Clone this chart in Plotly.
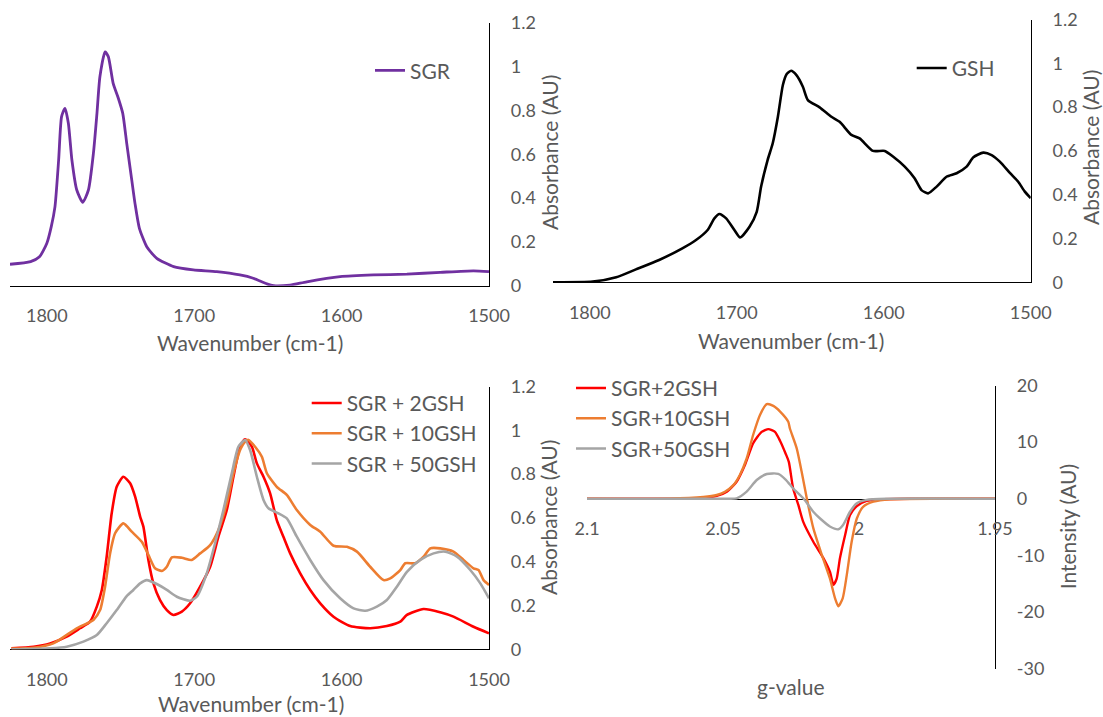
import plotly.graph_objects as go

# ---------------- data ----------------
sgr_wn = [1825, 1811, 1805, 1800, 1797, 1794.5, 1792, 1790, 1787.7, 1785.4, 1783, 1779.7, 1775.6,
          1771.8, 1768.4, 1766, 1764, 1760.5, 1758.3, 1755, 1751.5, 1748.5, 1745.8, 1742.4, 1740.2,
          1737.2, 1732.2, 1725.4, 1714, 1700.6, 1684.7, 1669, 1660, 1650.7, 1646, 1635, 1623.6,
          1601, 1578.4, 1555.7, 1533, 1510.5, 1500]
sgr_abs = [0.098, 0.11, 0.132, 0.194, 0.27, 0.36, 0.574, 0.772, 0.81, 0.742, 0.574, 0.437, 0.381,
           0.437, 0.605, 0.787, 0.954, 1.068, 1.046, 0.924, 0.856, 0.787, 0.65, 0.483, 0.376,
           0.262, 0.178, 0.125, 0.087, 0.072, 0.064, 0.049, 0.034, 0.008, 0.0, 0.003, 0.018,
           0.041, 0.049, 0.053, 0.061, 0.068, 0.064]

gsh_wn = [1825, 1798, 1782, 1768.6, 1752.8, 1737, 1727.7, 1719.8, 1715.2, 1711.8, 1707.2, 1701.6,
          1697.7, 1691.3, 1686.4, 1683.4, 1679, 1675.5, 1672, 1668.6, 1666, 1663, 1659.5, 1655,
          1651.6, 1643.6, 1635.6, 1630, 1622, 1616.4, 1607.3, 1599.3, 1593.7, 1585.7, 1579, 1574.3,
          1569.8, 1564, 1557.3, 1550.4, 1543.6, 1539, 1532.3, 1526.6, 1521, 1514, 1508.5, 1504, 1500]
gsh_abs = [0, 0.003, 0.023, 0.059, 0.102, 0.155, 0.193, 0.239, 0.292, 0.312, 0.292, 0.239,
           0.205, 0.254, 0.322, 0.437, 0.558, 0.635, 0.756, 0.901, 0.951, 0.966, 0.947, 0.893,
           0.832, 0.799, 0.756, 0.733, 0.673, 0.657, 0.6, 0.6, 0.574, 0.528, 0.475, 0.421,
           0.406, 0.437, 0.482, 0.498, 0.528, 0.571, 0.592, 0.581, 0.551, 0.498, 0.459, 0.414, 0.384]

mix2_wn = [1824, 1809, 1797.8, 1786.5, 1777.5, 1770.7, 1766.1, 1762.7, 1759.4, 1756, 1752.6, 1748.1,
           1743.5, 1740.1, 1736.7, 1734.5, 1731.1, 1727.7, 1723.2, 1718.6, 1714.1, 1708.4, 1702.8,
           1696, 1689.2, 1683.6, 1677.9, 1673.4, 1668.9, 1665.5, 1660.9, 1657.5, 1653, 1648.5, 1644,
           1639.5, 1634.9, 1628.1, 1621.3, 1614.5, 1605.5, 1594.2, 1580.6, 1569.3, 1560.2, 1555.7,
           1544.4, 1533.1, 1524.1, 1510.5, 1500]
mix2_abs = [0.005, 0.012, 0.027, 0.058, 0.096, 0.126, 0.195, 0.271, 0.423, 0.621, 0.742, 0.788,
            0.758, 0.697, 0.606, 0.56, 0.408, 0.301, 0.225, 0.179, 0.157, 0.172, 0.21,
            0.286, 0.377, 0.514, 0.636, 0.788, 0.925, 0.959, 0.925, 0.849, 0.788, 0.712, 0.59,
            0.514, 0.438, 0.347, 0.271, 0.21, 0.149, 0.106, 0.096, 0.106, 0.126, 0.157,
            0.184, 0.169, 0.149, 0.103, 0.073]

mix10_wn = [1824, 1809, 1795.6, 1779.7, 1768.4, 1763.9, 1760.5, 1757.1, 1753.7, 1748.1, 1742.4,
            1735.6, 1731.1, 1726.6, 1722, 1718.6, 1715.2, 1708.4, 1701.7, 1696, 1689.2, 1683.6,
            1677.9, 1673.4, 1668.9, 1665.5, 1663.2, 1658.7, 1654.1, 1650.7, 1644, 1637.2, 1630.4,
            1621.3, 1614.5, 1605.5, 1596.4, 1589.6, 1580.6, 1571.6, 1567, 1560.2, 1556.8, 1550,
            1544.4, 1539.8, 1533.1, 1524.1, 1517.3, 1510.5, 1507.1, 1503.7, 1500]
mix10_abs = [0.003, 0.007, 0.027, 0.096, 0.134, 0.179, 0.286, 0.438, 0.53, 0.575, 0.537,
             0.491, 0.431, 0.37, 0.358, 0.377, 0.42, 0.418, 0.408, 0.438, 0.476, 0.545,
             0.667, 0.804, 0.91, 0.948, 0.956, 0.925, 0.879, 0.804, 0.742, 0.705, 0.636,
             0.568, 0.537, 0.473, 0.468, 0.446, 0.377, 0.316, 0.324, 0.362, 0.393, 0.393,
             0.423, 0.461, 0.461, 0.446, 0.408, 0.37, 0.362, 0.316, 0.294]

mix50_wn = [1824, 1797.8, 1786.5, 1775.2, 1766.1, 1759.4, 1752.6, 1745.8, 1741.3, 1736.7, 1732.2,
            1725.4, 1718.6, 1711.8, 1702.8, 1698.3, 1691.5, 1684.7, 1680.2, 1674.5, 1670, 1665.5,
            1662.1, 1657.5, 1653, 1649.6, 1642.9, 1637.2, 1630.4, 1621.3, 1612.3, 1601, 1591.9,
            1584, 1576.1, 1569.3, 1562.5, 1555.7, 1546.6, 1537.6, 1529.7, 1521.7, 1512.7, 1505.9, 1500]
mix50_abs = [0, 0.005, 0.012, 0.035, 0.065, 0.119, 0.179, 0.243, 0.271, 0.301, 0.316,
             0.298, 0.271, 0.24, 0.222, 0.24, 0.347, 0.514, 0.636, 0.804, 0.925, 0.956,
             0.91, 0.788, 0.682, 0.644, 0.621, 0.598, 0.514, 0.408, 0.316, 0.233, 0.187,
             0.176, 0.195, 0.225, 0.286, 0.354, 0.408, 0.438, 0.446, 0.423, 0.362, 0.301, 0.233]

epr2_g = [2.1, 2.07, 2.058, 2.0523, 2.0486, 2.045, 2.0419, 2.0389, 2.0358, 2.0333, 2.0309, 2.029,
          2.027, 2.0258, 2.0242, 2.0223, 2.0205, 2.0168, 2.0131, 2.0107, 2.0094, 2.0082, 2.007,
          2.0051, 2.0033, 2.0008, 1.9972, 1.9923, 1.98, 1.95]
epr2_int = [0, 0, 0.1, 0.5, 1.24, 3.0, 6.0, 9.8, 11.8, 12.3, 11.8, 10.2,
            8.0, 6.5, 1.8, -1.1, -4.1, -7.6, -10.5, -12.9, -15.2, -14.1, -10.5,
            -6.4, -2.9, -1.3, -0.4, -0.1, 0, 0]

epr10_g = [2.1, 2.07, 2.0572, 2.0523, 2.0493, 2.0462, 2.0438, 2.0413, 2.0389, 2.0364, 2.0339,
           2.0315, 2.029, 2.026, 2.0254, 2.0229, 2.0211, 2.0192, 2.0168, 2.0137, 2.0107, 2.0088,
           2.0076, 2.006, 2.0045, 2.0027, 2.0008, 1.9984, 1.9947, 1.9886, 1.97, 1.95]
epr10_int = [0, 0, 0.3, 0.65, 1.24, 2.4, 4.2, 7.1, 11.3, 14.8, 16.7,
             16.4, 15.4, 13.6, 12.4, 8.9, 4.8, 0.07, -5.2, -9.9, -14.1, -17.6,
             -19.0, -17.6, -13.5, -7.6, -3.5, -1.4, -0.53, -0.1, 0, 0]

epr50_g = [2.1, 2.048, 2.045, 2.0413, 2.0376, 2.0339, 2.0297, 2.0268, 2.0242, 2.0205, 2.0168,
           2.0143, 2.0107, 2.0076, 2.0058, 2.0033, 2.0008, 1.9972, 1.99, 1.95]
epr50_int = [0, 0, 0.07, 1.24, 3.3, 4.36, 4.4, 3.3, 1.8, 0.07, -2.3,
             -3.5, -4.9, -5.4, -4.6, -2.3, -0.8, -0.2, 0, 0]

wn_ticks = [1800, 1700, 1600, 1500]
abs_ticks = [0, 0.2, 0.4, 0.6, 0.8, 1, 1.2]
g_ticks = [2.1, 2.05, 2.0, 1.95]
g_ticktext = ["2.1", "2.05", "2", "1.95"]
int_ticks = [-30, -20, -10, 0, 10, 20]
int_ticktext = ["-30", "-20", "-10", "0", "10", "20"]

# ---------------- styling ----------------
W, H = 1103, 717
FONT = "Lato"
TXT = "#595959"
PURPLE, BLACK, RED, ORANGE, GRAY = "#7030A0", "#000000", "#FF0000", "#ED7D31", "#A5A5A5"

def px(x):
    return x / W

def py(y):
    return (H - y) / H

fig = go.Figure()

def line(x, y, name, color, xa, ya, legend, width=2.6):
    fig.add_trace(go.Scatter(x=x, y=y, name=name, mode="lines",
                             line=dict(color=color, width=width, shape="spline", smoothing=0.6),
                             xaxis=xa, yaxis=ya, legend=legend, legendgroup=name))

line(sgr_wn, sgr_abs, "SGR", PURPLE, "x", "y", "legend", 2.8)
line(gsh_wn, gsh_abs, "GSH", BLACK, "x2", "y2", "legend2", 2.6)
line(mix2_wn, mix2_abs, "SGR + 2GSH", RED, "x3", "y3", "legend3")
line(mix10_wn, mix10_abs, "SGR + 10GSH", ORANGE, "x3", "y3", "legend3")
line(mix50_wn, mix50_abs, "SGR + 50GSH", GRAY, "x3", "y3", "legend3")
line(epr2_g, epr2_int, "SGR+2GSH", RED, "x4", "y4", "legend4", 2.4)
line(epr10_g, epr10_int, "SGR+10GSH", ORANGE, "x4", "y4", "legend4", 2.4)
line(epr50_g, epr50_int, "SGR+50GSH", GRAY, "x4", "y4", "legend4", 2.4)

tickfont = dict(family=FONT, size=18, color=TXT)
common = dict(showgrid=False, zeroline=False, showline=True, linecolor="black", linewidth=1.3,
              ticks="outside", tickcolor="rgba(0,0,0,0)", tickfont=tickfont,
              layer="below traces", automargin=False)

def xax(domain, anchor, **kw):
    d = dict(common, domain=domain, anchor=anchor, ticklen=14)
    d.update(kw)
    return d

def yax(domain, anchor, **kw):
    d = dict(common, domain=domain, anchor=anchor, side="right", ticklen=17)
    d.update(kw)
    return d

wn_range = [1825, 1500]
fig.update_layout(
    xaxis=xax([px(10), px(489)], "y", range=wn_range, tickvals=wn_ticks),
    yaxis=yax([py(285.7), py(22.9)], "x", range=[0, 1.2], tickvals=abs_ticks),
    xaxis2=xax([px(553), px(1030.7)], "y2", range=wn_range, tickvals=wn_ticks),
    yaxis2=yax([py(282.3), py(19.5)], "x2", range=[0, 1.2], tickvals=abs_ticks),
    xaxis3=xax([px(10), px(489)], "y3", range=wn_range, tickvals=wn_ticks),
    yaxis3=yax([py(649.3), py(386.5)], "x3", range=[0, 1.2], tickvals=abs_ticks),
    xaxis4=xax([px(587), px(995)], "free", position=py(498.7), range=[2.1, 1.95],
               tickvals=g_ticks, ticktext=g_ticktext),
    yaxis4=yax([py(668.5), py(385.5)], "x4", range=[-30, 20], tickvals=int_ticks,
               ticktext=int_ticktext),
)

legfont = dict(family=FONT, size=21, color=TXT)
def leg(x, y):
    return dict(x=x, y=y, xanchor="left", yanchor="middle", bgcolor="rgba(0,0,0,0)",
                borderwidth=0, font=legfont, itemwidth=30, tracegroupgap=0)

fig.update_layout(
    legend=leg(px(370), py(70.7)),
    legend2=leg(px(911.7), py(68.3)),
    legend3=leg(px(306.7), py(433.3)),
    legend4=leg(px(571), py(418.3)),
)

titlefont = dict(family=FONT, size=21, color=TXT)
def title(text, x, y, angle=0):
    fig.add_annotation(text=text, xref="paper", yref="paper", x=px(x), y=py(y),
                       xanchor="center", yanchor="middle", showarrow=False,
                       textangle=angle, font=titlefont)

title("Wavenumber (cm-1)", 250, 342)
title("Absorbance (AU)", 550, 153, -90)
title("Wavenumber (cm-1)", 791, 340)
title("Absorbance (AU)", 1090, 148, -90)
title("Wavenumber (cm-1)", 251, 703)
title("Absorbance (AU)", 548, 518, -90)
title("g-value", 791, 686.7)
title("Intensity (AU)", 1067.6, 526.7, -90)

fig.update_layout(width=W, height=H, margin=dict(l=0, r=0, t=0, b=0, autoexpand=False),
                  paper_bgcolor="white", plot_bgcolor="white", showlegend=True)

fig.write_html("out.html")
